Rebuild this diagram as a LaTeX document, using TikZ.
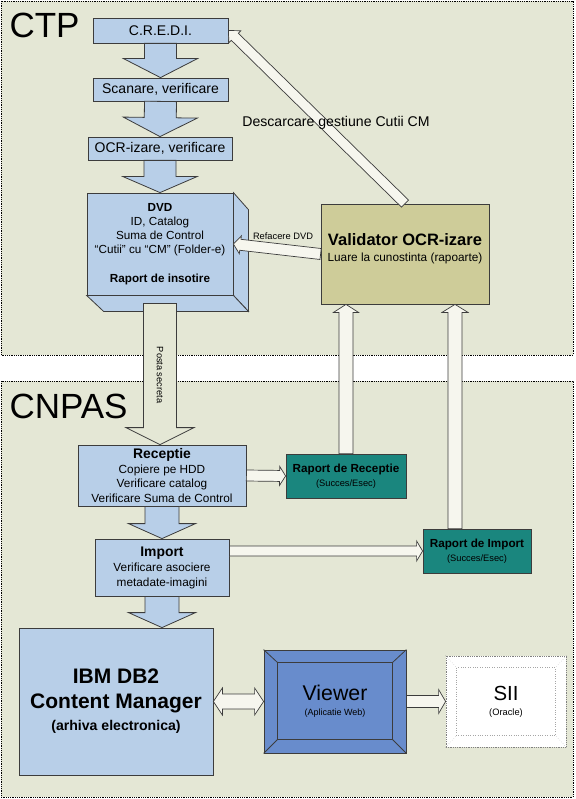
\documentclass[tikz,border=0pt]{standalone}
\usepackage{fontspec}
\setmainfont{Liberation Sans}
\usetikzlibrary{calc}

\definecolor{bgarea}{RGB}{228,231,213}
\definecolor{boxblue}{RGB}{184,207,232}
\definecolor{valcol}{RGB}{206,204,153}
\definecolor{tealbox}{RGB}{26,134,126}
\definecolor{viewblue}{RGB}{104,140,204}
\definecolor{edge}{RGB}{60,60,60}
\definecolor{pale}{RGB}{246,246,238}

\tikzset{
  region/.style={draw=black,densely dotted,line width=0.8pt,fill=bgarea},
  box/.style={draw=edge,line width=0.8pt,fill=boxblue,inner sep=0pt,align=center},
  report/.style={box,fill=tealbox},
  fat/.style={draw=edge,line width=0.8pt,fill=boxblue},
  thin/.style={draw=edge,line width=0.7pt,fill=pale},
}

% hollow block arrow: [style]{from}{to}{half shaft}{half head}{head length}
\newcommand\blockarrow[6][]{%
  \path ($(#3)!#6!(#2)$) coordinate (ba-head);
  \draw[#1] ($(#2)!#4!90:(#3)$) -- ($(ba-head)!#4!90:(#3)$) -- ($(ba-head)!#5!90:(#3)$) -- (#3)
    -- ($(ba-head)!#5!-90:(#3)$) -- ($(ba-head)!#4!-90:(#3)$) -- ($(#2)!#4!-90:(#3)$) -- cycle;}
\newcommand\twowayarrow[6][]{%
  \path ($(#2)!#6!(#3)$) coordinate (da-a) ($(#3)!#6!(#2)$) coordinate (da-b);
  \draw[#1] (#2) -- ($(da-a)!#5!90:(#3)$) -- ($(da-a)!#4!90:(#3)$) -- ($(da-b)!#4!90:(#3)$)
    -- ($(da-b)!#5!90:(#3)$) -- (#3) -- ($(da-b)!#5!-90:(#3)$) -- ($(da-b)!#4!-90:(#3)$)
    -- ($(da-a)!#4!-90:(#3)$) -- ($(da-a)!#5!-90:(#3)$) -- cycle;}

\begin{document}
\begin{tikzpicture}[x=1pt,y=-1pt]
\useasboundingbox (0,0) rectangle (575,799);
\draw[region] (1,1) rectangle (573,355);
\draw[region] (1,381) rectangle (573,797);
\node[anchor=base west,font=\fontsize{35}{40}\selectfont] (ctp) at (6,38) {CTP};
\node[anchor=base west,font=\fontsize{35}{40}\selectfont] (cnpas) at (6,418) {CNPAS};

% CTP
\node[box,minimum width=135pt,minimum height=25pt,font=\fontsize{14}{16}\selectfont] (credi) at (160.5,30.5) {C.R.E.D.I.};
\node[box,minimum width=135pt,minimum height=23pt,font=\fontsize{14}{16}\selectfont] (scan) at (160.5,89.5) {Scanare, verificare};
\node[box,minimum width=144pt,minimum height=23pt,font=\fontsize{14}{16}\selectfont] (ocr) at (160,148.5) {OCR-izare, verificare};
\node[box,minimum width=146pt,minimum height=102pt,font=\fontsize{11.7}{14.3}\selectfont] (dvd) at (160,244)
  {\textbf{DVD}\\ID, Catalog\\Suma de Control\\“Cutii” cu “CM” (Folder-e)\\[14.3pt]\textbf{Raport de insotire}};
\draw[fat] (dvd.north east) -- ++(15,17) -- ($(dvd.south east)+(15,16)$) -- (dvd.south east) -- cycle;
\draw[fat] (dvd.south west) -- ++(17,16) -- ($(dvd.south east)+(15,16)$) -- (dvd.south east) -- cycle;
\node[box,fill=valcol,minimum width=168pt,minimum height=100pt] (val) at (405,254) {};
\node[align=center,font=\fontsize{11.8}{16}\selectfont] (valtxt) at (405,249)
  {{\fontsize{16.5}{16}\selectfont\bfseries Validator OCR-izare}\\Luare la cunostinta (rapoarte)};

\blockarrow[fat]{credi.south}{scan.north}{16pt}{37pt}{19pt}
\blockarrow[fat]{scan.south}{ocr.north}{16pt}{37pt}{19pt}
\blockarrow[fat]{ocr.south}{dvd.north}{16pt}{37pt}{16pt}
\blockarrow[thin]{val.west}{dvd.east}{5.5pt}{9pt}{7pt}
\blockarrow[thin]{val.north}{credi.east}{5pt}{8.5pt}{9pt}
\node[font=\fontsize{9.3}{11}\selectfont,anchor=base] (refac) at (283,240) {Refacere DVD};
\node[font=\fontsize{14.1}{16}\selectfont,anchor=base] (descarc) at (336,127) {Descarcare gestiune Cutii CM};

% CNPAS
\node[box,minimum width=168pt,minimum height=61pt,font=\fontsize{11.8}{14.8}\selectfont] (rec) at (162,475.5)
  {{\fontsize{13.9}{15}\selectfont\bfseries Receptie}\\Copiere pe HDD\\Verificare catalog\\Verificare Suma de Control};
\node[box,minimum width=134pt,minimum height=57pt,font=\fontsize{11.8}{15}\selectfont] (imp) at (162,567.5)
  {{\fontsize{13.9}{15}\selectfont\bfseries Import}\\Verificare asociere\\metadate-imagini};
\node[report,minimum width=120pt,minimum height=44pt,font=\fontsize{9.3}{13.5}\selectfont] (rr) at (346,476)
  {{\fontsize{11.7}{13}\selectfont\bfseries Raport de Receptie}\\(Succes/Esec)};
\node[report,minimum width=108pt,minimum height=44pt,font=\fontsize{9.3}{13.5}\selectfont] (ri) at (477,551)
  {{\fontsize{11.7}{13}\selectfont\bfseries Raport de Import}\\(Succes/Esec)};
\node[box,minimum width=194pt,minimum height=147pt,font=\fontsize{21}{25}\selectfont\bfseries] (ibm) at (116,701.5)
  {IBM DB2\\Content Manager\\[-3pt]{\fontsize{14.1}{17}\selectfont (arhiva electronica)}};
\node[box,fill=viewblue,minimum width=142pt,minimum height=103pt,font=\fontsize{9}{15}\selectfont] (view) at (335,701.5)
  {{\fontsize{21.3}{22}\selectfont Viewer}\\(Aplicatie Web)};
\draw[draw=edge,line width=0.8pt] ($(view.north west)+(14,13)$) rectangle ($(view.south east)+(-14,-14)$);
\draw[draw=edge,line width=0.8pt] (view.north west) -- ++(14,13) (view.north east) -- ++(-14,13)
  (view.south west) -- ++(14,-14) (view.south east) -- ++(-14,-14);
\node[box,fill=white,draw=gray,densely dotted,minimum width=120pt,minimum height=91pt,font=\fontsize{9.3}{15}\selectfont] (sii) at (506,701.5)
  {{\fontsize{20.4}{22}\selectfont SII}\\(Oracle)};
\draw[gray!70,dotted] ($(sii.north west)+(11,12)$) rectangle ($(sii.south east)+(-11,-12)$);
\draw[gray!70,dotted] (sii.north west) -- ++(11,12) (sii.north east) -- ++(-11,12)
  (sii.south west) -- ++(11,-12) (sii.south east) -- ++(-11,-12);

\coordinate (posta-a) at ([yshift=-8pt]dvd.south);
\coordinate (posta-b) at (dvd.south |- rec.north);
\blockarrow[fat,fill=bgarea]{posta-a}{posta-b}{16.5pt}{34pt}{17pt}
\node[font=\fontsize{9.2}{11}\selectfont,rotate=-90] (posta) at (160,375) {Posta secreta};
\blockarrow[fat]{rec.south}{imp.north}{17pt}{33.5pt}{15pt}
\coordinate (ibm-top) at (imp.south |- ibm.north);
\blockarrow[fat]{imp.south}{ibm-top}{17pt}{33.5pt}{15pt}
\blockarrow[thin]{rec.east}{rr.west}{5.5pt}{9.5pt}{6pt}
\coordinate (imp-r) at (imp.east |- ri.west);
\blockarrow[thin]{imp-r}{ri.west}{5pt}{10pt}{6pt}
\coordinate (up1-b) at (rr.north |- val.south);
\blockarrow[thin]{rr.north}{up1-b}{7pt}{12.5pt}{8pt}
\coordinate (up2-a) at ([xshift=-22pt]ri.north);
\coordinate (up2-b) at (up2-a |- val.south);
\blockarrow[thin]{up2-a}{up2-b}{7pt}{13pt}{8pt}
\twowayarrow[thin]{ibm.east}{view.west}{7.5pt}{13.5pt}{9pt}
\blockarrow[thin]{view.east}{sii.west}{6pt}{12pt}{7pt}

\end{tikzpicture}
\end{document}
